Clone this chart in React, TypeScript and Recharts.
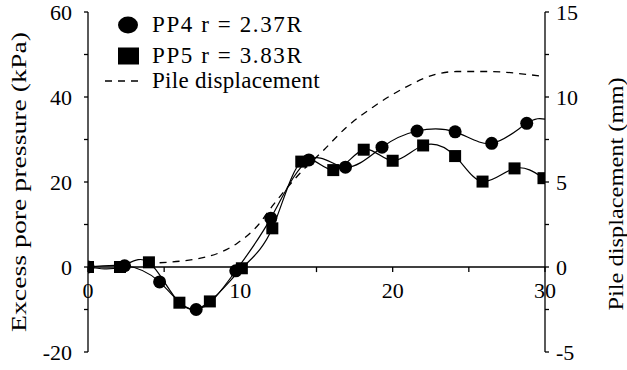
import React from 'react';
import { ComposedChart, Line, XAxis, YAxis, ReferenceLine, Legend } from 'recharts';

// PP4 (r = 2.37R), excess pore pressure in kPa
const pp4Time = [0, 2.4, 4.7, 7.1, 9.7, 12.0, 14.5, 16.9, 19.3, 21.6, 24.1, 26.5, 28.8, 30];
const pp4Pressure = [0, 0.3, -3.5, -10, -0.9, 11.5, 25.2, 23.5, 28.2, 32.0, 31.8, 29.1, 33.8, 34.8];

// PP5 (r = 3.83R)
const pp5Time = [0, 2.1, 4.0, 6.0, 8.0, 10.1, 12.1, 14.0, 16.1, 18.1, 20.0, 22.0, 24.1, 25.9, 28.0, 29.9];
const pp5Pressure = [0, 0, 1.1, -8.4, -8.1, -0.3, 9.1, 24.8, 22.8, 27.6, 25.0, 28.6, 26.1, 20.1, 23.2, 20.9];

// pile displacement in mm (right axis)
const dispTime = [4.7, 7.8, 9.8, 11.1, 12.2, 13.9, 15.5, 17.0, 18.7, 20.9, 22.7, 24.2, 26.4, 28.6, 30];
const dispMm = [0.25, 0.6, 1.4, 2.4, 3.7, 5.5, 6.9, 8.25, 9.4, 10.6, 11.3, 11.5, 11.5, 11.35, 11.2];

const timeTicks = [0, 5, 10, 15, 20, 25, 30];
const pressureTicks = [-20, -10, 0, 10, 20, 30, 40, 50, 60];
const dispTicks = [-5, -2.5, 0, 2.5, 5, 7.5, 10, 12.5, 15];

const seriesNames = ['PP4 r = 2.37R', 'PP5 r = 3.83R', 'Pile displacement'];

const FONT = "'Liberation Serif', 'DejaVu Serif', Times, serif";

const pp4Data = pp4Time.map((t, i) => ({ t, p: pp4Pressure[i] }));
const pp5Data = pp5Time.map((t, i) => ({ t, p: pp5Pressure[i] }));
const dispData = dispTime.map((t, i) => ({ t, d: dispMm[i] }));

const circleDot = (lastIndex: number) => (props: any) => {
  const { cx, cy, index } = props;
  if (index === lastIndex || cx == null) return <g key={`c-${index}`} />;
  return <circle key={`c-${index}`} cx={cx} cy={cy} r={6.5} fill="#000" />;
};

const squareDot = (props: any) => {
  const { cx, cy, index } = props;
  if (cx == null) return <g key={`s-${index}`} />;
  return <rect key={`s-${index}`} x={cx - 6} y={cy - 6} width={12} height={12} fill="#000" />;
};

// rotated axis title, stretched to the length seen in the figure
function VTitle(props: any) {
  const { viewBox, text, shift, center, len } = props;
  const x = viewBox.x + shift;
  return (
    <text
      transform={`translate(${x},${center}) rotate(-90)`}
      textAnchor="middle"
      fontSize={22}
      fill="#000"
      style={{ fontFamily: FONT }}
      textLength={len}
      lengthAdjust="spacingAndGlyphs"
    >
      {text}
    </text>
  );
}

function XTitle(props: any) {
  const { viewBox, text } = props;
  return (
    <text
      x={viewBox.x + viewBox.width / 2 - 7}
      y={viewBox.y}
      textAnchor="middle"
      fontSize={23}
      fill="#000"
      style={{ fontFamily: FONT }}
    >
      {text}
    </text>
  );
}

const rowTops = [13, 44, 69];

function renderLegend(props: any) {
  const payload = [...(props.payload || [])].sort(
    (a: any, b: any) => seriesNames.indexOf(a.value) - seriesNames.indexOf(b.value)
  );
  return (
    <div style={{ position: 'relative', width: 280, height: 95, fontFamily: FONT, fontSize: 23, color: '#000' }}>
      {payload.map((entry: any) => {
        const idx = seriesNames.indexOf(entry.value);
        let icon = null;
        if (idx === 0) icon = <ellipse cx={28} cy={12} rx={10} ry={8.5} fill="#000" />;
        else if (idx === 1) icon = <rect x={18} y={3.5} width={21} height={17} fill="#000" />;
        else icon = <line x1={5} x2={39} y1={12} y2={12} stroke="#000" strokeWidth={1.3} strokeDasharray="7 6" />;
        return (
          <div
            key={entry.value}
            style={{ position: 'absolute', left: 0, top: rowTops[idx], height: 24, display: 'flex', alignItems: 'center', whiteSpace: 'nowrap' }}
          >
            <svg width={44} height={24} style={{ display: 'block' }}>{icon}</svg>
            <span style={{ marginLeft: 8, lineHeight: '24px', fontFamily: FONT, letterSpacing: idx < 2 ? 1.6 : 0.3 }}>
              {entry.value}
            </span>
          </div>
        );
      })}
    </div>
  );
}

const tickStyle = { fill: '#000', fontSize: 22, style: { fontFamily: FONT } };

export default function App() {
  return (
    <div style={{ position: 'absolute', left: 0, top: 0, width: 627, height: 370, background: '#fff', fontFamily: FONT }}>
      <ComposedChart width={627} height={370} margin={{ top: 12, right: 2, bottom: 18, left: 8 }} style={{ fontFamily: FONT }}>
        <XAxis
          type="number"
          dataKey="t"
          domain={[0, 30]}
          allowDataOverflow
          height={0}
          tick={false}
          tickLine={false}
          axisLine={false}
          label={<XTitle text="Time, t (ms)" />}
        />
        <YAxis
          yAxisId="left"
          orientation="left"
          width={80}
          domain={[-20, 60]}
          ticks={pressureTicks}
          interval={0}
          allowDataOverflow
          tickFormatter={(v: number) => (v % 20 === 0 ? String(v) : '')}
          tickSize={4}
          tickMargin={12}
          stroke="#000"
          strokeWidth={1.3}
          tick={tickStyle}
          label={<VTitle text="Excess pore pressure (kPa)" shift={18} center={182} len={300} />}
        />
        <YAxis
          yAxisId="right"
          orientation="right"
          width={80}
          domain={[-5, 15]}
          ticks={dispTicks}
          interval={0}
          allowDataOverflow
          tickFormatter={(v: number) => (v % 5 === 0 ? String(v) : '')}
          tickSize={4}
          tickMargin={7}
          stroke="#000"
          strokeWidth={1.3}
          tick={tickStyle}
          label={<VTitle text="Pile displacement (mm)" shift={78} center={194} len={233} />}
        />

        {/* time axis drawn on the zero line */}
        <ReferenceLine yAxisId="left" y={0} stroke="#000" strokeWidth={1.3} />
        {timeTicks.map((t) => (
          <ReferenceLine
            key={`xt-${t}`}
            yAxisId="left"
            segment={[{ x: t, y: 0 }, { x: t, y: -1.2 }]}
            stroke="#000"
            strokeWidth={1.3}
            label={
              t % 10 === 0
                ? { value: String(t), position: 'bottom', offset: 10, fill: '#000', fontSize: 22, style: { fontFamily: FONT } }
                : undefined
            }
          />
        ))}

        <Line
          yAxisId="right"
          data={dispData}
          dataKey="d"
          name={seriesNames[2]}
          type="monotone"
          stroke="#000"
          strokeWidth={1.3}
          strokeDasharray="7 6"
          dot={false}
          activeDot={false}
          isAnimationActive={false}
        />
        <Line
          yAxisId="left"
          data={pp5Data}
          dataKey="p"
          name={seriesNames[1]}
          type="natural"
          stroke="#000"
          strokeWidth={1.2}
          dot={squareDot}
          activeDot={false}
          isAnimationActive={false}
        />
        <Line
          yAxisId="left"
          data={pp4Data}
          dataKey="p"
          name={seriesNames[0]}
          type="natural"
          stroke="#000"
          strokeWidth={1.2}
          dot={circleDot(pp4Data.length - 1)}
          activeDot={false}
          isAnimationActive={false}
        />

        <Legend
          layout="horizontal"
          verticalAlign="middle"
          align="center"
          content={renderLegend}
          wrapperStyle={{ left: 100, top: 0, width: 280, height: 95 }}
        />
      </ComposedChart>
    </div>
  );
}
